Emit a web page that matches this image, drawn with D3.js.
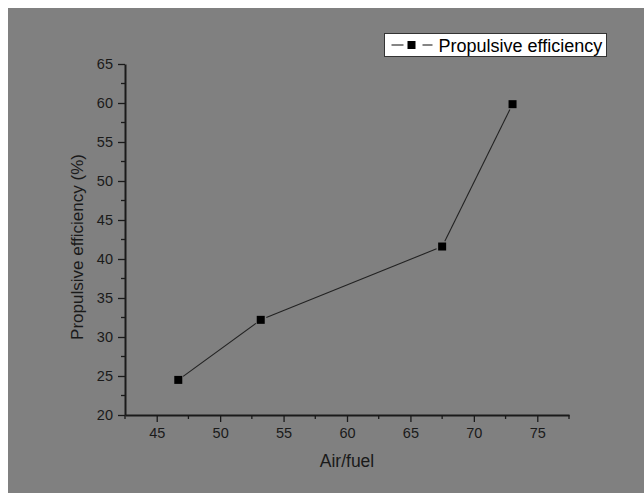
<!DOCTYPE html>
<html>
<head>
<meta charset="utf-8">
<script src="https://cdn.jsdelivr.net/npm/d3@7"></script>
<style>
  html, body { margin: 0; padding: 0; background: #fff; }
  svg { display: block; font-family: "Liberation Sans", Arial, sans-serif; }
</style>
</head>
<body>
<div id="chart"></div>
<script>
// values
const airFuel = [46.7, 53.2, 67.5, 73.05];
const efficiency = [24.5, 32.2, 41.6, 59.85];
const seriesName = 'Propulsive efficiency';
const xTicks = [45, 50, 55, 60, 65, 70, 75];
const yTicks = [20, 25, 30, 35, 40, 45, 50, 55, 60, 65];

const width = 644;
const height = 493;
const ink = '#1a1a1a';

const x = d3.scaleLinear().domain([42.5, 77.5]).range([125, 569]);
const y = d3.scaleLinear().domain([20, 65]).range([415, 64]);

const svg = d3.select('#chart').append('svg')
    .attr('width', width)
    .attr('height', height);

// gray page with thin white margin top/left
svg.append('rect')
    .attr('x', 8).attr('y', 8)
    .attr('width', width - 8).attr('height', height - 8)
    .attr('fill', '#808080');

// x axis
const xAxis = svg.append('g')
    .attr('transform', `translate(0,${y(20)})`)
    .call(d3.axisBottom(x).tickValues(xTicks).tickSize(7).tickSizeOuter(0).tickPadding(6));
// minor ticks
svg.append('g').selectAll('line')
    .data(d3.range(42.5, 78, 5))
    .join('line')
    .attr('x1', d => x(d)).attr('x2', d => x(d))
    .attr('y1', y(20)).attr('y2', y(20) + 4)
    .attr('stroke', ink).attr('stroke-width', 1.3);

// y axis
const yAxis = svg.append('g')
    .attr('transform', `translate(${x(42.5)},0)`)
    .call(d3.axisLeft(y).tickValues(yTicks).tickSize(7).tickSizeOuter(0).tickPadding(5));
svg.append('g').selectAll('line')
    .data(d3.range(22.5, 65, 5))
    .join('line')
    .attr('x1', x(42.5) - 4).attr('x2', x(42.5))
    .attr('y1', d => y(d)).attr('y2', d => y(d))
    .attr('stroke', ink).attr('stroke-width', 1.3);

[xAxis, yAxis].forEach(a => {
    a.select('.domain').attr('stroke', ink).attr('stroke-width', 2);
    a.selectAll('.tick line').attr('stroke', ink).attr('stroke-width', 1.3);
    a.selectAll('.tick text')
        .attr('fill', ink)
        .style('font-size', '14.5px')
        .style('font-family', '"Liberation Sans", Arial, sans-serif');
});

// axis titles
svg.append('text')
    .attr('x', (x(42.5) + x(77.5)) / 2)
    .attr('y', 467)
    .attr('text-anchor', 'middle')
    .attr('fill', ink)
    .style('font-size', '17.5px')
    .text('Air/fuel');

svg.append('text')
    .attr('transform', 'translate(83,247) rotate(-90)')
    .attr('text-anchor', 'middle')
    .attr('fill', ink)
    .style('font-size', '17px')
    .text('Propulsive efficiency (%)');

// line segments, with a small gap at each marker (Origin style)
const pts = airFuel.map((v, i) => [x(v), y(efficiency[i])]);
const gap = 6;
const segs = d3.pairs(pts).map(([a, b]) => {
    const dx = b[0] - a[0], dy = b[1] - a[1];
    const len = Math.hypot(dx, dy);
    const ux = dx / len, uy = dy / len;
    return [a[0] + ux * gap, a[1] + uy * gap, b[0] - ux * gap, b[1] - uy * gap];
});
svg.append('g').selectAll('line')
    .data(segs)
    .join('line')
    .attr('x1', d => d[0]).attr('y1', d => d[1])
    .attr('x2', d => d[2]).attr('y2', d => d[3])
    .attr('stroke', '#222').attr('stroke-width', 1.1);

svg.append('g').selectAll('rect')
    .data(airFuel)
    .join('rect')
    .attr('x', (d, i) => x(d) - 4)
    .attr('y', (d, i) => y(efficiency[i]) - 4)
    .attr('width', 8).attr('height', 8)
    .attr('fill', '#000');

// legend
const lg = svg.append('g').attr('transform', 'translate(384.5,33.5)');
lg.append('rect')
    .attr('width', 222).attr('height', 23)
    .attr('fill', '#fff').attr('stroke', '#333').attr('stroke-width', 1);
lg.append('line').attr('x1', 7).attr('x2', 19).attr('y1', 11.5).attr('y2', 11.5)
    .attr('stroke', '#222').attr('stroke-width', 1.1);
lg.append('line').attr('x1', 38).attr('x2', 48).attr('y1', 11.5).attr('y2', 11.5)
    .attr('stroke', '#222').attr('stroke-width', 1.1);
lg.append('rect').attr('x', 23).attr('y', 7.5).attr('width', 8).attr('height', 8).attr('fill', '#000');
lg.append('text')
    .attr('x', 54).attr('y', 18.5)
    .attr('fill', '#000')
    .style('font-size', '18px')
    .text(seriesName);
</script>
</body>
</html>
